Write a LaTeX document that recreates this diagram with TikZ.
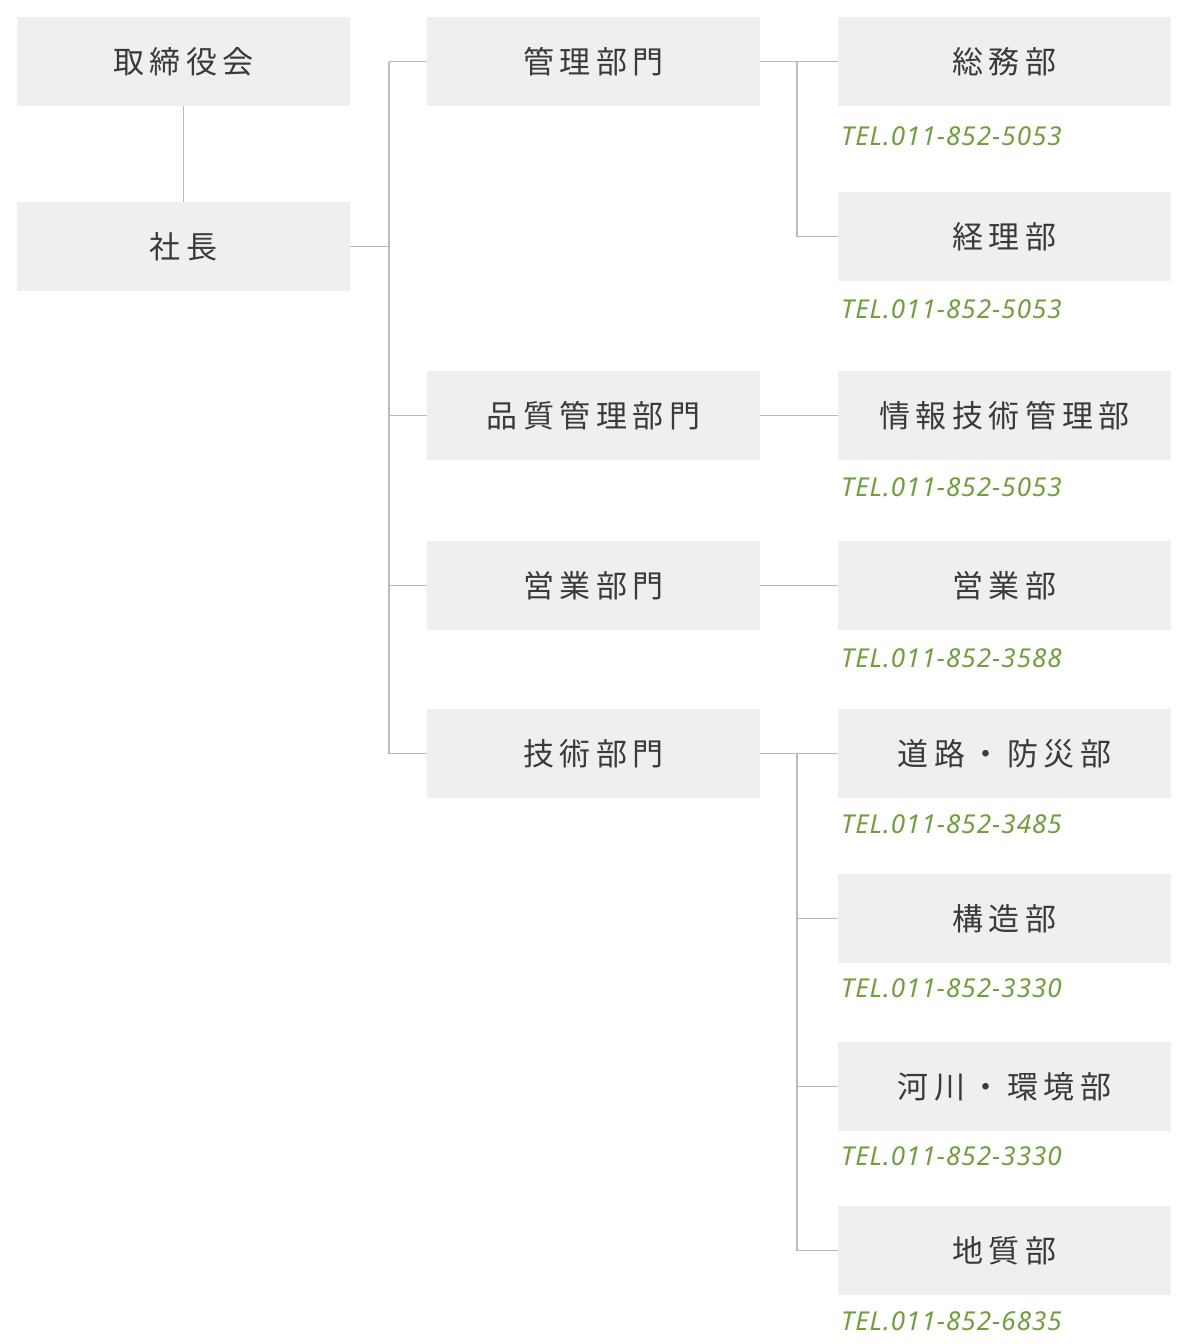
\documentclass[tikz,border=0pt]{standalone}
\usepackage{fontspec}
\newfontfamily\jp[LetterSpace=18]{Noto Sans CJK JP}
\newfontfamily\tel[LetterSpace=4]{Noto Sans}
\definecolor{boxfill}{HTML}{EFEFEF}
\definecolor{txt}{HTML}{3A3A3A}
\definecolor{grn}{HTML}{6FA03C}
\definecolor{ln}{HTML}{BBBBBB}
\begin{document}
\begin{tikzpicture}[x=1pt,y=-1pt,
  box/.style={fill=boxfill,draw=none,minimum width=333pt,minimum height=89pt,inner sep=0pt,
    font={\jp\fontsize{31}{31}\selectfont},text=txt},
  tel/.style={anchor=west,inner sep=0pt,text=grn,font={\tel\bfseries\itshape\fontsize{26}{26}\selectfont}},
  con/.style={draw=ln,line width=1.6pt}]
\useasboundingbox (0,0) rectangle (1180,1344);
\node[box] (a) at (183.5,61.5) {取締役会};
\node[box] (b) at (183.5,246.5) {社長};
\node[box] (k) at (593.5,61.5) {管理部門};
\node[box] (h) at (593.5,415.5) {品質管理部門};
\node[box] (e) at (593.5,585.5) {営業部門};
\node[box] (g) at (593.5,753.5) {技術部門};
\node[box] (d1) at (1004.5,61.5) {総務部};
\node[box] (d2) at (1004.5,236.5) {経理部};
\node[box] (d3) at (1004.5,415.5) {情報技術管理部};
\node[box] (d4) at (1004.5,585.5) {営業部};
\node[box] (d5) at (1004.5,753.5) {道路・防災部};
\node[box] (d6) at (1004.5,918.5) {構造部};
\node[box] (d7) at (1004.5,1086.5) {河川・環境部};
\node[box] (d8) at (1004.5,1250.5) {地質部};
\node[tel] (t1) at (841,136) {TEL.011-852-5053};
\node[tel] (t2) at (841,309) {TEL.011-852-5053};
\node[tel] (t3) at (841,487) {TEL.011-852-5053};
\node[tel] (t4) at (841,658) {TEL.011-852-3588};
\node[tel] (t5) at (841,824) {TEL.011-852-3485};
\node[tel] (t6) at (841,988) {TEL.011-852-3330};
\node[tel] (t7) at (841,1156) {TEL.011-852-3330};
\node[tel] (t8) at (841,1321) {TEL.011-852-6835};
\coordinate (v1) at (389,61.5);
\coordinate (v2) at (797,61.5);
\coordinate (v3) at (797,753.5);
\draw[con] (a) -- (b);
\draw[con] (b.east) -- (b.east -| v1);
\draw[con] (k.west -| v1) -- (g.west -| v1);
\foreach \n in {k,h,e,g} \draw[con] (\n.west -| v1) -- (\n.west);
\draw[con] (k.east) -- (d1.west);
\draw[con] (v2) -- (d2.west -| v2) -- (d2.west);
\draw[con] (h.east) -- (d3.west);
\draw[con] (e.east) -- (d4.west);
\draw[con] (g.east) -- (d5.west);
\draw[con] (v3) -- (d8.west -| v3);
\foreach \n in {d6,d7,d8} \draw[con] (\n.west -| v3) -- (\n.west);
\end{tikzpicture}
\end{document}
